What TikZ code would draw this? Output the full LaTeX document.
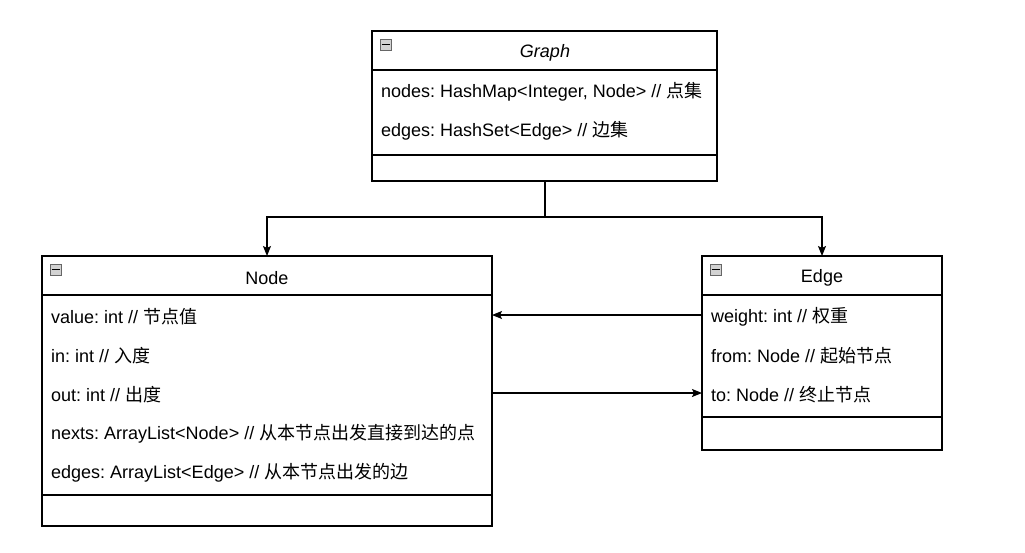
\documentclass[tikz,border=0pt]{standalone}
\usepackage{fontspec}
\setmainfont{Liberation Sans}
\newfontfamily\cjk{Noto Sans CJK SC}
\usetikzlibrary{arrows.meta}
\newcommand{\zh}[1]{{\cjk #1}}
\frenchspacing
\tikzset{
  box/.style={draw=black, line width=1.1pt, fill=white},
  sep/.style={draw=black, line width=1.1pt},
  attr/.style={anchor=west, inner sep=0pt, font=\fontsize{18}{21}\selectfont},
  title/.style={inner sep=0pt, font=\fontsize{18}{21}\selectfont},
  icon/.style={draw=gray!80!black, fill=gray!35, line width=0.6pt, minimum size=11pt, inner sep=0pt},
  conn/.style={draw=black, line width=1.1pt, -{Stealth[length=10pt,width=8pt,inset=2pt]}},
  line/.style={draw=black, line width=1.1pt}
}
\begin{document}
\begin{tikzpicture}[x=1pt,y=-1pt]
\useasboundingbox (0,0) rectangle (1025,552);
% Graph
\draw[box] (372,31) rectangle (717,181);
\draw[sep] (372,70) -- (717,70);
\draw[sep] (372,155) -- (717,155);
\node[icon] (gi) at (385.5,44.5) {};
\draw[line width=0.9pt] (381.5,44.5) -- (389.5,44.5);
\node[title, font=\fontsize{18}{21}\selectfont\itshape] (gt) at (545,52.5) {Graph};
\node[attr] (g1) at (381,92) {nodes: HashMap<Integer, Node> // \zh{点集}};
\node[attr] (g2) at (381,131) {edges: HashSet<Edge> // \zh{边集}};
\coordinate (gb) at (545,181);
% Node
\draw[box] (42,256) rectangle (492,526);
\draw[sep] (42,295) -- (492,295);
\draw[sep] (42,495) -- (492,495);
\node[icon] (ni) at (55.5,269.5) {};
\draw[line width=0.9pt] (51.5,269.5) -- (59.5,269.5);
\node[title] (nt) at (267,278) {Node};
\node[attr] (n1) at (51,317) {value: int // \zh{节点值}};
\node[attr] (n2) at (51,356) {in: int // \zh{入度}};
\node[attr] (n3) at (51,395) {out: int // \zh{出度}};
\node[attr] (n4) at (51,434) {nexts: ArrayList<Node> // \zh{从本节点出发直接到达的点}};
\node[attr] (n5) at (51,473) {edges: ArrayList<Edge> // \zh{从本节点出发的边}};
\coordinate (nt0) at (267,256);
\coordinate (nr1) at (492,315);
\coordinate (nr2) at (492,393);
% Edge
\draw[box] (702,256) rectangle (942,450);
\draw[sep] (702,295) -- (942,295);
\draw[sep] (702,417) -- (942,417);
\node[icon] (ei) at (715.5,269.5) {};
\draw[line width=0.9pt] (711.5,269.5) -- (719.5,269.5);
\node[title] (et) at (822,278) {Edge};
\node[attr] (e1) at (711,317) {weight: int // \zh{权重}};
\node[attr] (e2) at (711,356) {from: Node // \zh{起始节点}};
\node[attr] (e3) at (711,395) {to: Node // \zh{终止节点}};
\coordinate (et0) at (822,256);
\coordinate (el1) at (702,315);
\coordinate (el2) at (702,393);
% connectors
\coordinate (j) at (545,217);
\draw[line] (gb) -- (j);
\draw[conn] (j) -| (nt0);
\draw[conn] (j) -| (et0);
\draw[conn] (el1) -- (nr1);
\draw[conn] (nr2) -- (el2);
\end{tikzpicture}
\end{document}
